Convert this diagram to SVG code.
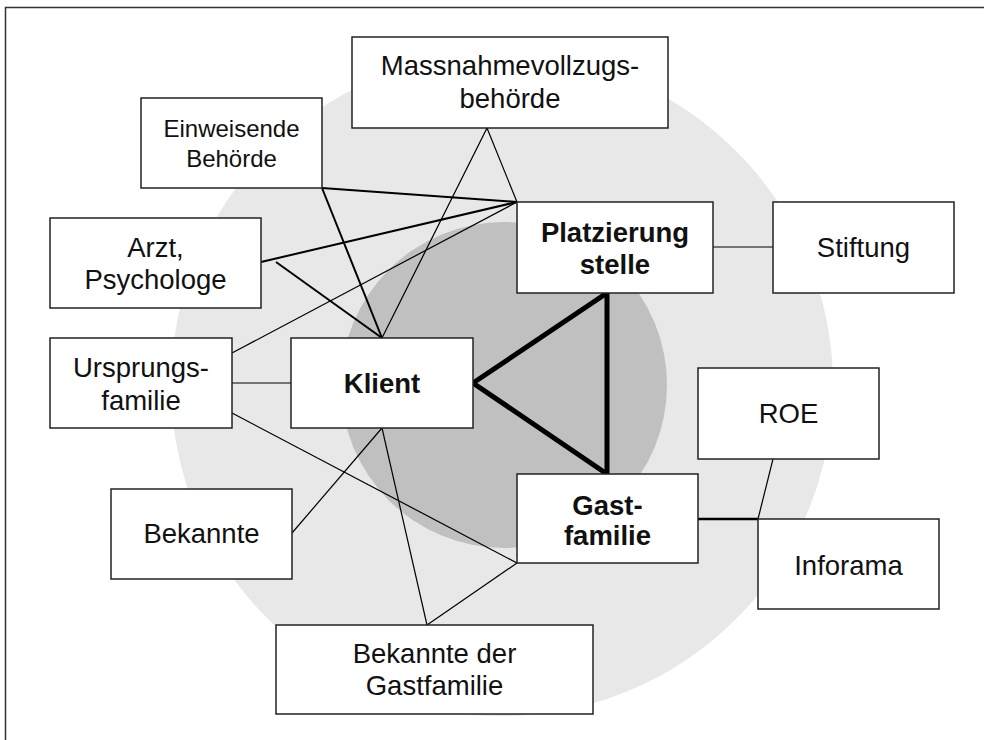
<svg xmlns="http://www.w3.org/2000/svg" width="984" height="740" viewBox="0 0 984 740">
<style>
.box{fill:#fff;stroke:#222;stroke-width:1.5}
.t{font-family:"Liberation Sans",Arial,sans-serif;font-size:27.5px;fill:#111;text-anchor:middle}
.s{font-size:24px}
.b{font-weight:bold}
.c{stroke:#000;stroke-width:1.2;fill:none}
.c2{stroke:#000;stroke-width:2;fill:none}
</style>
<rect x="0" y="0" width="984" height="740" fill="#fff"/>
<path d="M5.5 745 V7.5 H990" fill="none" stroke="#333" stroke-width="1.5"/>
<circle cx="502" cy="385" r="331" fill="#e8e8e8"/>
<circle cx="504" cy="385" r="163" fill="#c0c0c0"/>
<g id="connectors">
<line class="c2" x1="322" y1="188" x2="517" y2="202"/>
<line class="c2" x1="322" y1="188" x2="382" y2="338"/>
<line class="c2" x1="261" y1="262" x2="517" y2="202"/>
<line class="c2" x1="276" y1="262" x2="382" y2="338"/>
<line class="c" x1="487" y1="128" x2="517" y2="202"/>
<line class="c" x1="487" y1="128" x2="382" y2="338"/>
<line class="c" x1="232" y1="353" x2="517" y2="202"/>
<line class="c" x1="232" y1="383" x2="291" y2="383"/>
<line class="c" x1="232" y1="413" x2="517" y2="563"/>
<line class="c" x1="292" y1="533" x2="382" y2="428"/>
<line class="c" x1="382" y1="428" x2="427" y2="625"/>
<line class="c" x1="427" y1="625" x2="517" y2="563"/>
<line class="c" x1="713" y1="247" x2="773" y2="247"/>
<line class="c" x1="773" y1="459" x2="758" y2="519"/>
<line stroke="#000" stroke-width="2.5" x1="698" y1="519" x2="758" y2="519"/>
<polygon points="473,383 607,293 607,474" fill="none" stroke="#000" stroke-width="5" stroke-linejoin="miter"/>
</g>
<g id="massnahme"><rect class="box" x="352" y="37" width="316" height="91"/><text class="t" x="510" y="75">Massnahmevollzugs-</text><text class="t" x="510" y="108">behörde</text></g>
<g id="einweisende"><rect class="box" x="141" y="98" width="181" height="90"/><text class="t s" x="231.5" y="137">Einweisende</text><text class="t s" x="231.5" y="167">Behörde</text></g>
<g id="arzt"><rect class="box" x="50" y="218" width="211" height="90"/><text class="t" x="155.5" y="257">Arzt,</text><text class="t" x="155.5" y="289">Psychologe</text></g>
<g id="platzierung"><rect class="box" x="517" y="202" width="196" height="91"/><text class="t b" x="615" y="242">Platzierung</text><text class="t b" x="615" y="274">stelle</text></g>
<g id="stiftung"><rect class="box" x="773" y="202" width="181" height="91"/><text class="t" x="863.5" y="257">Stiftung</text></g>
<g id="ursprungsfamilie"><rect class="box" x="50" y="338" width="182" height="90"/><text class="t" x="141" y="377">Ursprungs-</text><text class="t" x="141" y="410">familie</text></g>
<g id="klient"><rect class="box" x="291" y="338" width="182" height="90"/><text class="t b" x="382" y="393">Klient</text></g>
<g id="roe"><rect class="box" x="698" y="368" width="181" height="91"/><text class="t" x="788.5" y="423">ROE</text></g>
<g id="gastfamilie"><rect class="box" x="517" y="474" width="181" height="89"/><text class="t b" x="607.5" y="515">Gast-</text><text class="t b" x="607.5" y="545">familie</text></g>
<g id="bekannte"><rect class="box" x="111" y="489" width="181" height="90"/><text class="t" x="201.5" y="543">Bekannte</text></g>
<g id="inforama"><rect class="box" x="758" y="519" width="181" height="90"/><text class="t" x="848.5" y="575">Inforama</text></g>
<g id="bekannte-gastfamilie"><rect class="box" x="276" y="625" width="317" height="89"/><text class="t" x="434.5" y="663">Bekannte der</text><text class="t" x="434.5" y="695">Gastfamilie</text></g>
</svg>
